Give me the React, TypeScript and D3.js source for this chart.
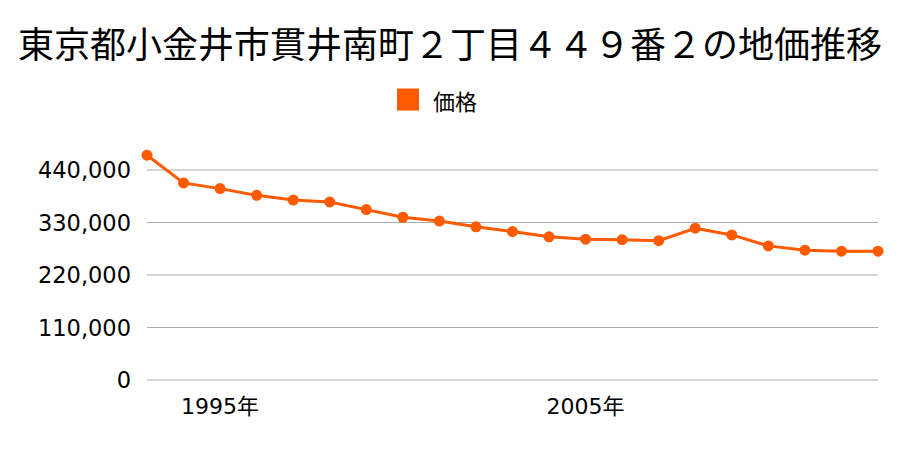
import React from "react";
import * as d3 from "d3";

const title = "東京都小金井市貫井南町２丁目４４９番２の地価推移";
const legendLabel = "価格";
const years = [1993,1994,1995,1996,1997,1998,1999,2000,2001,2002,2003,2004,2005,2006,2007,2008,2009,2010,2011,2012,2013];
const prices = [471000,413000,401000,387000,377000,373000,357000,341000,333000,321000,311000,300000,295000,294000,292000,318000,304000,281000,272000,270000,270000];
const yTicks = [0,110000,220000,330000,440000];
const xTickYears = [1995,2005];

const W = 900, H = 450;
const FONT = "'Noto Sans CJK JP', 'Noto Sans', sans-serif";
const NUMFONT = "'DejaVu Sans', 'Noto Sans CJK JP', sans-serif";
const COLOR = "#ff5a00";

export default function App() {
  const x = d3.scaleLinear().domain([1993, 2013]).range([147, 878]);
  const y = d3.scaleLinear().domain([0, 440000]).range([380, 170]);
  const line = d3.line<number>().x((_, i) => x(years[i])).y(d => y(d));
  const fmt = d3.format(",");
  return (
    <svg width={W} height={H} style={{ position: "absolute", left: 0, top: 0 }} fontFamily={FONT}>
      <rect width={W} height={H} fill="#fff" />
      <text x={450} y={42} textAnchor="middle" dominantBaseline="central" fontSize={36} fill="#000">{title}</text>
      <rect x={397} y={88.5} width={22} height={22} fill={COLOR} />
      <text x={433} y={99.5} dominantBaseline="central" fontSize={22} fill="#000">{legendLabel}</text>
      {yTicks.map(t => (
        <g key={t}>
          <line x1={147} x2={878} y1={y(t)} y2={y(t)} stroke="#aaa" strokeWidth={1} />
          <text x={131} y={y(t)} textAnchor="end" dominantBaseline="central" fontFamily={NUMFONT} fontSize={22.5} fill="#000">{fmt(t)}</text>
        </g>
      ))}
      {xTickYears.map(t => (
        <text key={t} x={x(t)} y={406} textAnchor="middle" dominantBaseline="central" fontFamily={NUMFONT} fontSize={22} fill="#000">{t}年</text>
      ))}
      <path d={line(prices) || ""} fill="none" stroke={COLOR} strokeWidth={3} />
      {prices.map((p, i) => (
        <circle key={i} cx={x(years[i])} cy={y(p)} r={5.5} fill={COLOR} />
      ))}
    </svg>
  );
}
